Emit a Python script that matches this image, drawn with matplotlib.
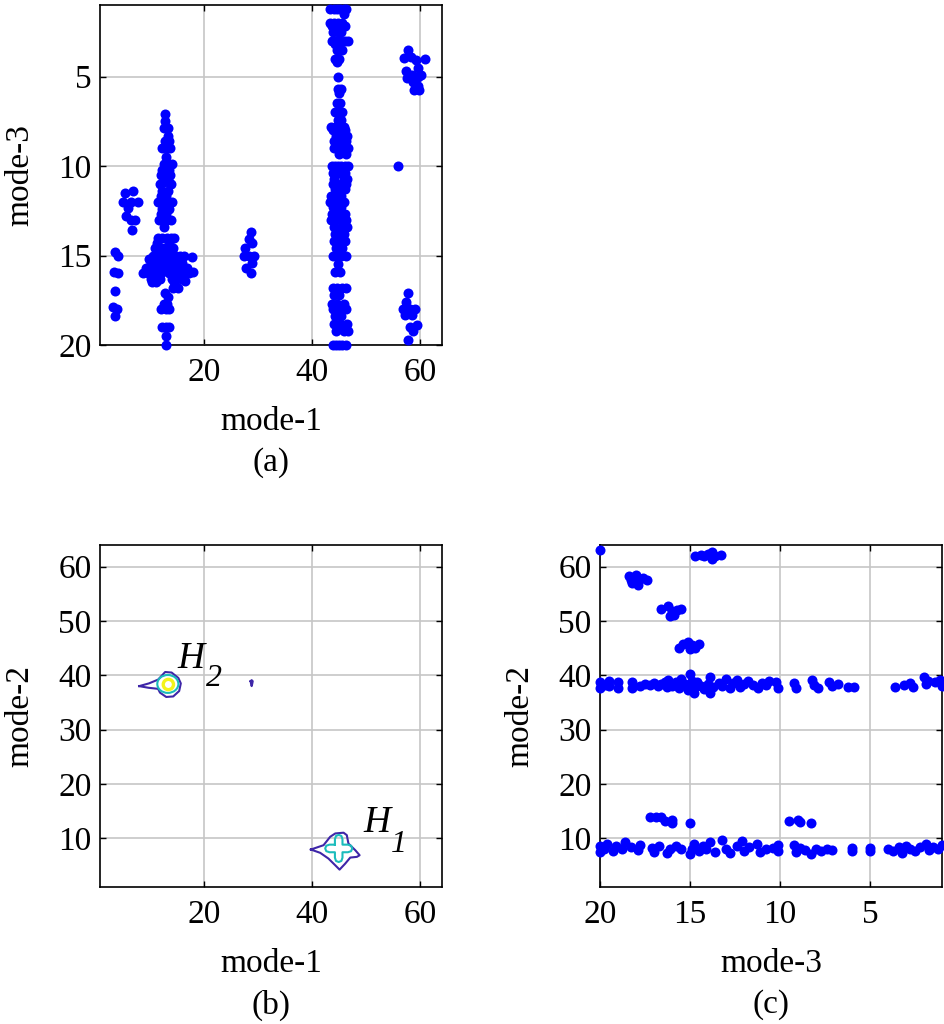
"""Mode-pair scatter plots and mode-1/mode-2 density contours."""

import numpy as np
import matplotlib
matplotlib.use("Agg")
import matplotlib.pyplot as plt
from matplotlib.patches import Circle, Ellipse

plt.rcParams["font.family"] = ["Liberation Serif", "DejaVu Serif"]
plt.rcParams["font.size"] = 24

# ── Data: panel (a), mode-1 vs mode-3 ─────────────────────────────────────────

a_left = [(3.6, 14.8), (4.0, 15.0), (3.3, 15.9), (4.0, 16.0), (3.6, 17.0),
          (3.15, 17.9), (3.9, 18.0), (3.6, 18.4)]

a_small = [(5.3, 11.5), (6.9, 11.4), (5.0, 12.0), (6.5, 12.0), (7.8, 12.0),
           (5.9, 12.35), (5.6, 12.8), (7.2, 13.0), (6.5, 13.0), (6.7, 13.6)]

a_main = [(12.7, 7.1), (12.7, 7.5), (12.5, 7.9), (13.3, 7.9), (13.3, 8.3),
          (12.7, 8.6), (13.5, 8.6), (12.3, 9.0), (13.1, 9.0), (13.7, 9.0),
          (12.9, 9.5), (12.5, 9.9), (13.3, 9.9), (14.1, 9.9), (12.3, 10.2),
          (13.5, 10.2), (12.1, 10.5), (12.9, 10.5), (13.7, 10.5), (12.5, 10.9),
          (13.5, 10.9), (11.9, 11.0), (13.9, 11.0), (12.3, 11.4), (13.3, 11.4),
          (12.1, 11.7), (12.9, 11.7), (11.5, 12.0), (12.5, 12.0), (13.3, 12.0),
          (14.1, 12.0), (12.3, 12.4), (13.5, 12.4), (12.0, 12.7), (12.9, 12.7),
          (11.6, 13.0), (12.3, 13.0), (13.1, 13.0), (13.9, 13.0), (12.5, 13.4),
          (11.5, 14.0), (12.3, 14.0), (13.1, 14.0), (13.9, 14.0), (14.5, 14.0),
          (11.3, 14.3), (13.5, 14.3), (11.0, 14.6), (12.0, 14.6), (12.7, 14.6),
          (13.3, 14.6), (14.3, 14.6), (10.5, 15.0), (11.2, 15.0), (11.9, 15.0),
          (12.6, 15.0), (13.3, 15.0), (14.1, 15.0), (14.8, 15.0), (15.5, 15.0),
          (16.3, 15.0), (9.8, 15.2), (10.9, 15.2), (12.3, 15.2), (13.7, 15.2),
          (10.2, 15.4), (11.5, 15.4), (12.8, 15.4), (14.3, 15.4), (15.0, 15.4),
          (16.0, 15.4), (17.8, 15.1), (9.3, 15.7), (10.4, 15.7), (11.8, 15.7),
          (13.2, 15.7), (14.8, 15.7), (15.6, 15.7), (16.8, 15.7), (17.9, 15.9),
          (8.7, 16.0), (9.6, 16.0), (10.6, 16.0), (11.4, 16.0), (12.1, 16.0),
          (13.5, 16.0), (15.2, 16.0), (16.2, 16.0), (17.2, 16.0), (10.1, 16.3),
          (11.9, 16.3), (14.0, 16.3), (15.8, 16.3), (10.3, 16.5), (11.2, 16.5),
          (14.5, 16.5), (16.4, 16.4), (14.2, 16.8), (15.2, 16.8), (12.7, 17.1),
          (13.4, 17.3), (12.5, 17.7), (13.2, 17.7), (12.1, 18.0), (12.9, 18.0),
          (13.5, 18.0), (12.3, 19.0), (12.9, 19.0), (13.5, 19.0), (12.9, 19.5),
          (12.9, 20.0)]

a_mid = [(28.6, 13.7), (28.3, 14.1), (28.9, 14.3), (27.5, 14.6), (27.3, 15.0),
         (28.3, 15.0), (29.3, 15.0), (28.8, 15.4), (27.7, 15.7), (28.7, 16.0)]

a_col45 = [(43.3, 1.2), (44.0, 1.2), (44.6, 1.2), (45.2, 1.2), (45.8, 1.2),
           (46.3, 1.2), (45.8, 1.5), (43.3, 2.0), (44.0, 2.0), (44.8, 2.0),
           (45.5, 2.0), (43.6, 2.2), (46.0, 2.2), (43.8, 2.5), (44.8, 2.5),
           (45.3, 2.5), (43.6, 3.0), (44.4, 3.0), (45.2, 3.0), (46.0, 3.0),
           (46.6, 3.0), (44.2, 3.2), (45.0, 3.2), (44.6, 3.5), (45.6, 3.5),
           (44.2, 4.0), (45.0, 4.0), (44.6, 4.2), (44.8, 5.0), (44.8, 5.7),
           (45.4, 5.7), (45.0, 5.9), (44.6, 6.5), (45.2, 6.5), (44.2, 7.0),
           (45.0, 7.0), (45.6, 7.0), (44.8, 7.4), (45.4, 7.4), (43.4, 7.8),
           (44.2, 7.8), (45.0, 7.8), (45.8, 7.8), (43.8, 8.0), (44.6, 8.0),
           (45.4, 8.0), (46.0, 8.0), (44.4, 8.3), (45.6, 8.3), (46.4, 8.3),
           (44.0, 8.6), (45.2, 8.6), (46.2, 8.6), (44.0, 9.0), (45.0, 9.0),
           (46.0, 9.0), (46.6, 9.0), (45.0, 9.3), (46.2, 9.3), (43.6, 10.0),
           (44.2, 10.0), (44.8, 10.0), (45.4, 10.0), (46.0, 10.0), (46.6, 10.0),
           (43.8, 10.4), (45.0, 10.4), (46.0, 10.4), (44.0, 10.7), (45.8, 10.7),
           (46.4, 10.7), (43.8, 11.0), (44.6, 11.0), (46.2, 11.0), (44.2, 11.3),
           (45.2, 11.3), (46.0, 11.3), (43.4, 11.7), (44.0, 11.7), (45.4, 11.7),
           (43.2, 12.0), (44.2, 12.0), (45.8, 12.0), (43.8, 12.3), (44.6, 12.3),
           (45.4, 12.3), (43.6, 12.7), (44.8, 12.7), (46.0, 12.7), (43.4, 13.0),
           (44.2, 13.0), (45.2, 13.0), (46.2, 13.0), (44.0, 13.4), (45.6, 13.4),
           (46.4, 13.4), (44.2, 13.8), (45.0, 13.8), (45.8, 13.8), (44.0, 14.2),
           (45.2, 14.2), (46.0, 14.2), (44.4, 14.6), (45.6, 14.6), (43.8, 15.0),
           (44.6, 15.0), (45.4, 15.0), (46.2, 15.0), (44.8, 15.5), (44.2, 15.9),
           (45.2, 15.9), (43.8, 16.8), (44.6, 16.8), (45.6, 16.8), (46.2, 16.8),
           (44.0, 17.2), (45.0, 17.2), (43.6, 17.7), (44.6, 17.7), (45.8, 17.7),
           (43.8, 18.0), (45.0, 18.0), (46.2, 18.0), (44.2, 18.4), (45.4, 18.4),
           (44.0, 18.8), (45.2, 18.8), (46.4, 18.8), (44.4, 19.2), (45.8, 19.2),
           (46.6, 19.2), (43.8, 20.0), (44.4, 20.0), (45.0, 20.0), (45.6, 20.0),
           (46.2, 20.0)]

a_right = [(57.8, 3.5), (56.9, 3.95), (58.2, 3.9), (59.2, 4.1), (60.8, 4.0),
           (59.6, 4.5), (57.4, 4.7), (58.4, 4.9), (59.6, 5.0), (60.2, 4.9),
           (58.6, 5.3), (59.6, 5.5), (58.8, 5.75), (59.8, 5.75), (57.6, 5.1),
           (55.9, 10.0), (57.8, 17.1), (57.4, 17.6), (56.8, 18.0), (58.0, 18.0),
           (59.0, 18.0), (57.2, 18.3), (58.4, 18.3), (59.3, 18.9), (58.0, 19.0),
           (58.6, 19.2), (57.8, 19.7)]

# ── Data: panel (c), mode-3 vs mode-2 ─────────────────────────────────────────

c_top = [(20.0, 63.0), (14.75, 62.0), (14.4, 62.1), (14.0, 62.3), (13.8, 62.7),
         (13.6, 62.0), (13.3, 62.1), (13.8, 61.5), (14.2, 62.0),
         (18.4, 58.2), (18.3, 57.6), (18.0, 58.4), (17.9, 57.2), (17.6, 58.0),
         (17.4, 57.6), (18.2, 57.0), (17.9, 56.6),
         (16.6, 52.2), (16.2, 52.8), (16.0, 51.8), (15.7, 52.0), (15.5, 52.2),
         (16.1, 51.0), (15.9, 51.1),
         (15.6, 45.0), (15.4, 45.8), (15.1, 46.2), (14.9, 45.6), (14.7, 45.0),
         (14.5, 45.8), (15.0, 44.8)]

c_band38 = [(20.0, 37.6), (20.0, 38.8), (19.7, 38.2), (19.5, 38.0), (19.5, 38.9),
            (19.0, 37.6), (19.0, 38.7), (18.2, 37.7), (18.2, 38.8), (17.8, 38.0),
            (17.5, 38.3), (17.2, 38.2), (17.0, 38.6), (16.8, 38.0), (16.6, 38.4),
            (16.4, 38.8), (16.3, 37.8), (16.2, 39.2), (16.0, 38.0), (15.8, 38.8),
            (15.6, 37.6), (15.5, 39.4), (15.3, 38.4), (15.1, 37.2), (15.0, 40.2),
            (15.0, 38.0), (14.9, 39.0), (14.8, 36.8), (14.7, 37.8), (14.6, 38.8),
            (14.4, 38.0), (14.2, 37.4), (14.0, 38.4), (13.9, 39.6), (13.7, 37.8),
            (13.9, 36.8), (13.4, 38.6), (13.2, 38.0), (13.0, 39.4), (12.8, 37.6),
            (12.6, 38.6), (12.4, 39.2), (12.2, 37.8), (12.0, 38.4), (11.8, 39.0),
            (11.5, 38.2), (11.2, 37.6), (11.0, 38.6), (10.8, 38.2), (10.6, 39.0),
            (10.2, 38.8), (10.1, 37.6), (9.2, 38.6), (9.1, 37.6), (8.2, 39.2),
            (8.1, 38.2), (7.9, 37.6), (7.3, 38.8), (7.1, 38.0), (6.8, 38.4),
            (6.2, 37.9), (5.9, 37.9), (3.6, 37.9), (3.1, 38.2), (2.8, 38.5),
            (2.6, 37.8), (2.0, 39.6), (1.9, 38.4), (1.8, 39.0), (1.4, 38.8),
            (1.1, 39.2), (1.0, 38.0)]

c_band13 = [(17.2, 13.9), (16.9, 13.9), (16.6, 13.9), (16.4, 13.2), (16.0, 13.4),
            (16.0, 12.8), (15.0, 12.8), (9.5, 13.2), (9.0, 13.4), (8.9, 12.9),
            (8.3, 12.8)]

c_band8 = [(20.0, 7.4), (20.0, 8.6), (19.8, 8.0), (19.6, 9.0), (19.3, 7.6),
           (19.1, 8.6), (18.8, 8.0), (18.6, 9.2), (18.3, 8.4), (17.9, 7.8),
           (17.8, 8.8), (17.1, 8.2), (17.0, 7.4), (16.7, 8.6), (16.3, 7.2),
           (16.1, 8.0), (15.8, 8.6), (15.5, 8.0), (15.0, 7.0), (14.9, 8.0),
           (14.8, 9.0), (14.5, 7.6), (14.3, 8.6), (14.1, 8.0), (13.9, 9.2),
           (13.6, 7.4), (13.2, 9.6), (13.0, 8.0), (12.8, 7.2), (12.4, 8.6),
           (12.1, 9.4), (12.0, 7.6), (11.7, 8.4), (11.3, 9.0), (11.1, 7.4),
           (10.8, 8.0), (10.4, 8.2), (10.1, 8.8), (10.1, 7.6), (9.2, 8.8),
           (9.1, 7.4), (8.9, 8.2), (8.6, 7.8), (8.3, 7.0), (8.0, 8.0),
           (7.7, 7.6), (7.4, 8.0), (7.1, 7.8), (6.0, 8.2), (6.0, 7.6),
           (5.0, 8.2), (5.0, 7.6), (4.0, 8.0), (3.7, 7.6), (3.4, 8.4),
           (3.2, 7.2), (3.0, 8.6), (2.8, 8.0), (2.5, 7.6), (2.2, 8.4),
           (1.9, 9.0), (1.7, 7.8), (1.5, 8.4), (1.2, 8.0), (1.0, 8.8)]

# ── Data: panel (b), contour outlines (mode-1, mode-2) ────────────────────────

h2_outer = [(8.0, 38.0), (9.8, 38.5), (11.5, 39.2), (12.8, 40.6), (14.0, 40.5),
            (15.25, 39.5), (15.7, 38.5), (15.4, 37.1), (14.3, 36.1), (13.0, 36.0),
            (11.85, 36.8), (11.5, 37.5), (9.7, 37.7), (8.0, 38.0)]
h2_mid = (13.3, 38.4, 3.9, 3.3)      # centre x, centre y, width, height
h2_peak = (13.4, 38.3, 0.95)         # centre x, centre y, radius

h1_outer = [(39.75, 7.9), (42.1, 8.7), (43.33, 10.25), (44.26, 10.86), (45.8, 11.0),
            (46.4, 10.55), (46.7, 9.0), (47.96, 7.78), (48.77, 6.85), (48.27, 6.55),
            (47.04, 6.42), (46.1, 5.3), (45.06, 4.2), (44.26, 5.0), (43.0, 6.24),
            (41.48, 7.29), (39.75, 7.9)]
h1_mid = [(44.2, 8.8), (44.2, 9.8), (44.4, 10.4), (44.9, 10.6), (45.4, 10.4),
          (45.6, 9.8), (45.6, 8.8), (46.6, 8.8), (47.2, 8.6), (47.4, 8.1),
          (47.2, 7.6), (46.6, 7.4), (45.6, 7.4), (45.6, 6.4), (45.4, 5.8),
          (44.9, 5.6), (44.4, 5.8), (44.2, 6.4), (44.2, 7.4), (43.2, 7.4),
          (42.6, 7.6), (42.4, 8.1), (42.6, 8.6), (43.2, 8.8), (44.2, 8.8)]
blip = [(28.6, 38.9), (28.8, 39.1), (29.0, 38.9), (28.9, 38.4), (28.8, 38.0),
        (28.7, 38.4), (28.6, 38.9)]

LOW, MID, HIGH = "#3e26a8", "#1cbcbc", "#f4f41a"


# ── Helpers ───────────────────────────────────────────────────────────────────

def style_axes(ax, xlabel, ylabel, tag):
    ax.grid(True, color="#c6c6c6", linewidth=1.2)
    ax.set_axisbelow(True)
    ax.tick_params(direction="in", top=True, right=True, length=4, width=1)
    ax.tick_params(axis="x", pad=9)
    ax.tick_params(axis="y", pad=6)
    for s in ax.spines.values():
        s.set_linewidth(1.2)
    ax.set_xlabel(xlabel)
    ax.set_ylabel(ylabel)
    ax.xaxis.label.set_verticalalignment("center")
    ax.yaxis.label.set_verticalalignment("center")
    ax.xaxis.set_label_coords(0.5, -0.225)
    ax.yaxis.set_label_coords(-0.235, 0.5)
    ax.text(0.5, -0.345, tag, transform=ax.transAxes, ha="center", va="center")


def scatter(ax, *clusters):
    pts = np.array([p for c in clusters for p in c])
    ax.scatter(pts[:, 0], pts[:, 1], s=52, color="#0000ff", linewidths=0,
               clip_on=False, zorder=3)


# ── Figure ────────────────────────────────────────────────────────────────────

fig = plt.figure(figsize=(9.44, 10.24), dpi=100)
ax_a = fig.add_axes([0.1059, 0.6631, 0.3623, 0.3320])
ax_b = fig.add_axes([0.1059, 0.1338, 0.3623, 0.3340])
ax_c = fig.add_axes([0.6356, 0.1338, 0.3623, 0.3340])

# (a)
scatter(ax_a, a_left, a_small, a_main, a_mid, a_col45, a_right)
ax_a.set_xlim(0.75, 64)
ax_a.set_ylim(20, 1)
ax_a.set_xticks([20, 40, 60])
ax_a.set_yticks([5, 10, 15, 20])
style_axes(ax_a, "mode-1", "mode-3", "(a)")

# (b)
for line, col in [(h2_outer, LOW), (h1_outer, LOW), (h1_mid, MID), (blip, LOW)]:
    arr = np.array(line)
    ax_b.plot(arr[:, 0], arr[:, 1], color=col, linewidth=1.5, zorder=3)
ax_b.add_patch(Ellipse(h2_mid[:2], h2_mid[2], h2_mid[3], fill=False,
                       edgecolor=MID, linewidth=1.5, zorder=3))
ax_b.add_patch(Circle(h2_peak[:2], h2_peak[2], fill=False,
                      edgecolor=HIGH, linewidth=2.4, zorder=4))
ax_b.text(15.06, 41.4, "H", style="italic", fontsize=27, va="baseline")
ax_b.text(20.4, 38.0, "2", style="italic", fontsize=23, va="baseline")
ax_b.text(49.5, 11.2, "H", style="italic", fontsize=27, va="baseline")
ax_b.text(54.6, 7.4, "1", style="italic", fontsize=23, va="baseline")
ax_b.set_xlim(0.75, 64)
ax_b.set_ylim(1, 64)
ax_b.set_xticks([20, 40, 60])
ax_b.set_yticks([10, 20, 30, 40, 50, 60])
style_axes(ax_b, "mode-1", "mode-2", "(b)")

# (c)
scatter(ax_c, c_top, c_band38, c_band13, c_band8)
ax_c.set_xlim(20, 1)
ax_c.set_ylim(1, 64)
ax_c.set_xticks([20, 15, 10, 5])
ax_c.set_yticks([10, 20, 30, 40, 50, 60])
style_axes(ax_c, "mode-3", "mode-2", "(c)")

fig.savefig("out.png", dpi=100)
